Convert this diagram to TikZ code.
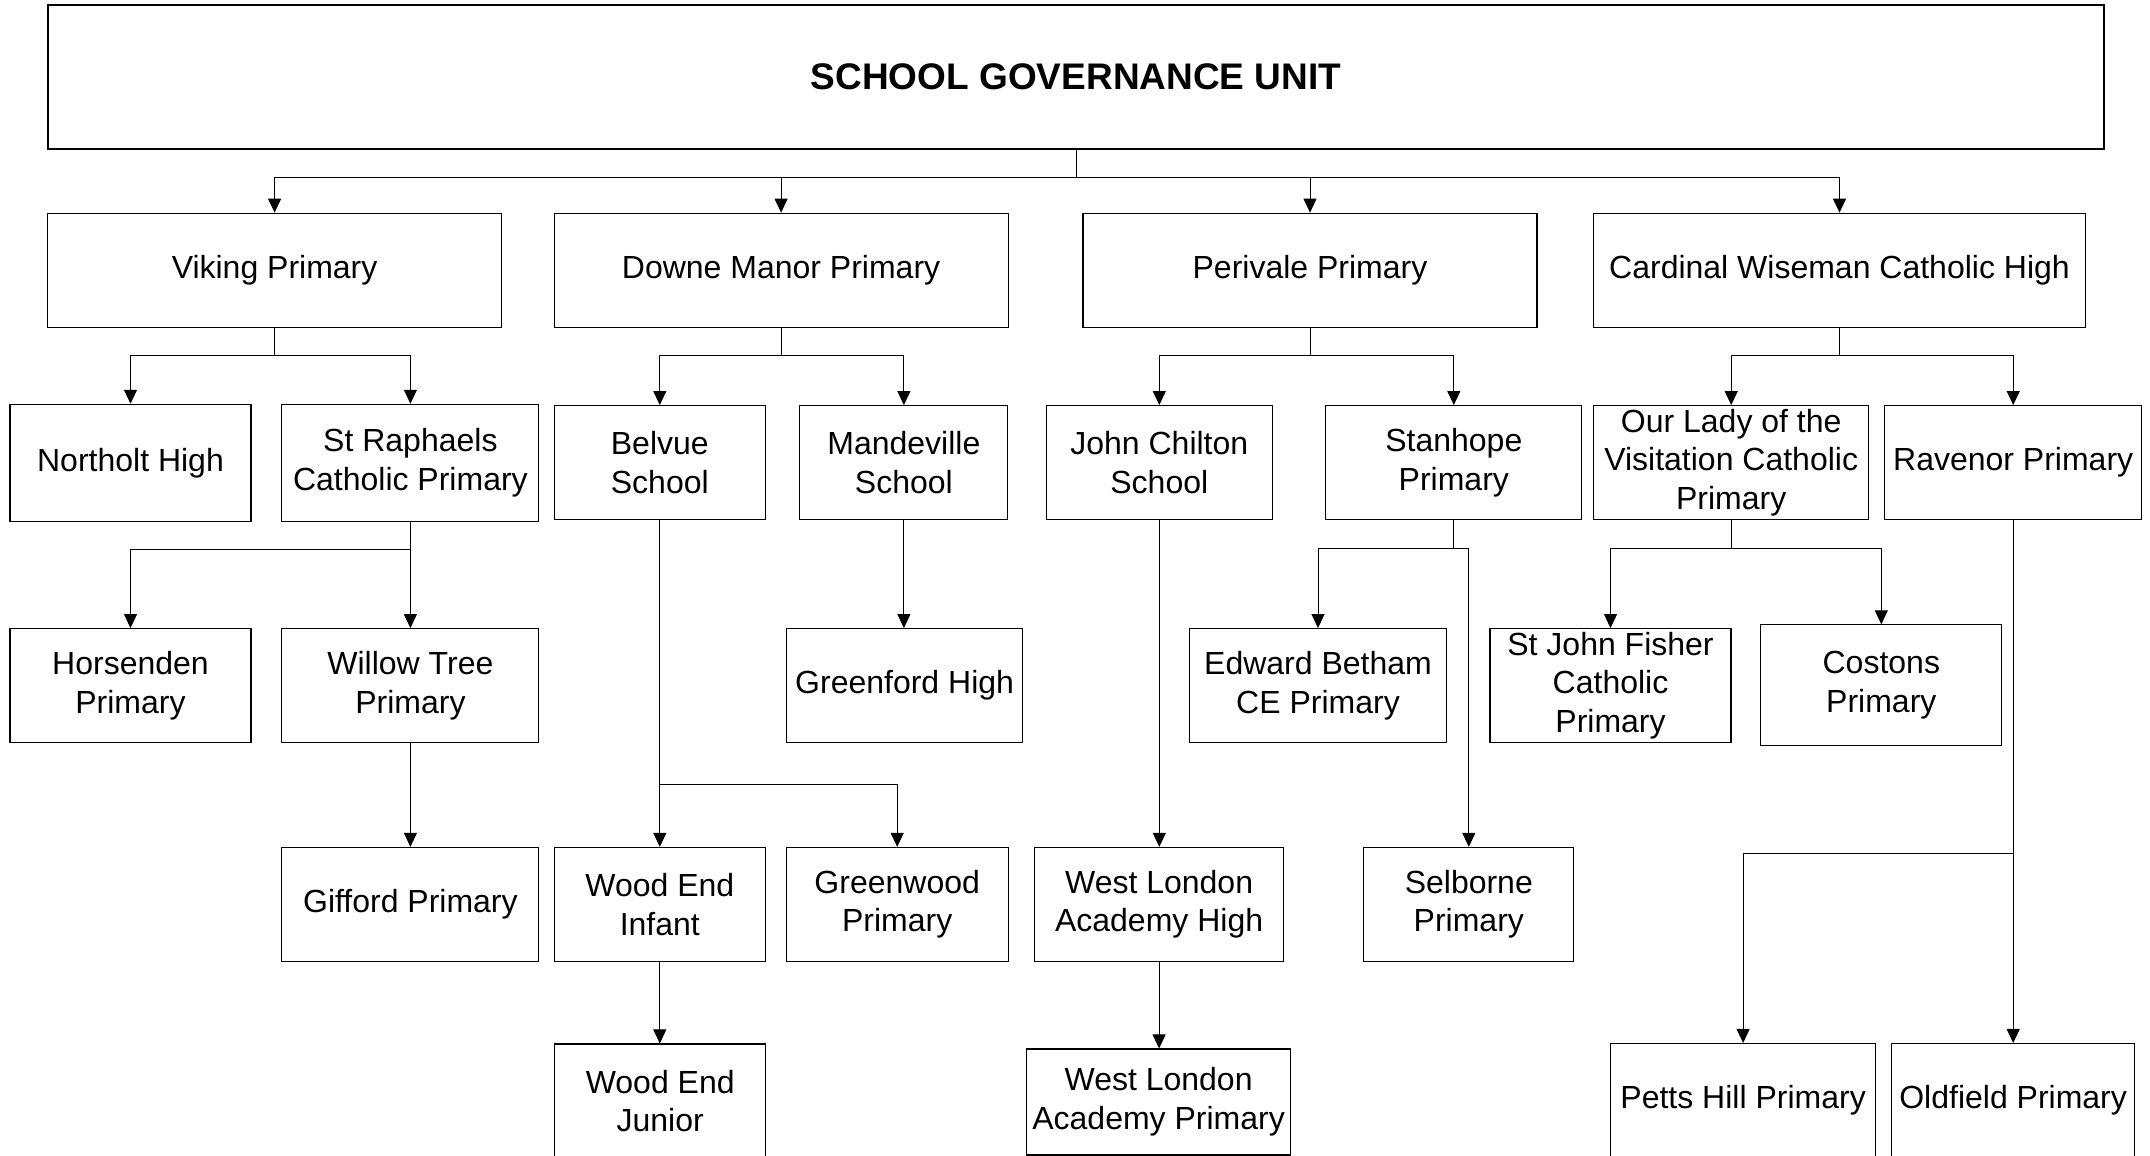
\documentclass[tikz,border=0pt]{standalone}
\usepackage{fontspec}
\setmainfont{Liberation Sans}
\usetikzlibrary{arrows.meta}

\begin{document}
\begin{tikzpicture}[x=1pt, y=-1pt, >={Triangle[length=14pt,width=13pt]},
    unit/.style={draw, line width=1.1pt, rectangle, align=center, inner sep=0pt,
                 font=\fontsize{32}{38.6}\selectfont, minimum height=114pt},
    link/.style={->, line width=1pt}]

    \clip (0,0) rectangle (2150,1156);

    % Head box
    \node[unit, minimum width=2056pt, minimum height=144pt,
          font=\fontsize{37}{44}\selectfont\bfseries] (gov) at (1076,77) {SCHOOL GOVERNANCE UNIT};

    % Level 1
    \node[unit, minimum width=454pt] (viking)   at (274.6,270.2) {Viking Primary};
    \node[unit, minimum width=454pt] (downe)    at (781.1,270.2) {Downe Manor Primary};
    \node[unit, minimum width=454pt] (perivale) at (1310,270.2) {Perivale Primary};
    \node[unit, minimum width=492pt] (cardinal) at (1839.5,270.2) {Cardinal Wiseman Catholic High};

    % Level 2
    \node[unit, minimum width=241pt, minimum height=117pt] (northolt)   at (130.5,462.8) {Northolt High};
    \node[unit, minimum width=257pt, minimum height=117pt] (straphaels) at (410.4,462.8) {St Raphaels\\Catholic Primary};
    \node[unit, minimum width=211pt] (belvue)     at (659.8,462.6) {Belvue\\School};
    \node[unit, minimum width=208pt] (mandeville) at (903.9,462.6) {Mandeville\\School};
    \node[unit, minimum width=226pt] (chilton)    at (1159.3,462.6) {John Chilton\\School};
    \node[unit, minimum width=256pt] (stanhope)   at (1453.8,462.6) {Stanhope\\Primary};
    \node[unit, minimum width=275pt] (ourlady)    at (1731.2,462.6) {Our Lady of the\\Visitation Catholic\\Primary};
    \node[unit, minimum width=257pt] (ravenor)    at (2013.2,462.6) {Ravenor Primary};

    % Level 3
    \node[unit, minimum width=241pt] (horsenden) at (130.5,685.6) {Horsenden\\Primary};
    \node[unit, minimum width=257pt] (willow)    at (410.4,685.6) {Willow Tree\\Primary};
    \node[unit, minimum width=236pt] (greenford) at (904.6,685.6) {Greenford High};
    \node[unit, minimum width=257pt] (betham)    at (1318,685.6) {Edward Betham\\CE Primary};
    \node[unit, minimum width=241pt] (fisher)    at (1610.5,685.6) {St John Fisher\\Catholic\\Primary};
    \node[unit, minimum width=241pt, minimum height=121pt] (costons) at (1881.3,685.4) {Costons\\Primary};

    % Level 4
    \node[unit, minimum width=257pt] (gifford)   at (410.4,904.4) {Gifford Primary};
    \node[unit, minimum width=211pt] (woodinf)   at (659.8,904.4) {Wood End\\Infant};
    \node[unit, minimum width=222pt] (greenwood) at (897.2,904.4) {Greenwood\\Primary};
    \node[unit, minimum width=249pt] (wlhigh)    at (1159.1,904.4) {West London\\Academy High};
    \node[unit, minimum width=210pt] (selborne)  at (1468.8,904.4) {Selborne\\Primary};

    % Level 5
    \node[unit, minimum width=211pt] (woodjun)   at (660.2,1101) {Wood End\\Junior};
    \node[unit, minimum width=264pt, minimum height=106pt] (wlprimary) at (1158.6,1102) {West London\\Academy Primary};
    \node[unit, minimum width=265pt] (petts)     at (1743.1,1100.5) {Petts Hill Primary};
    \node[unit, minimum width=243pt] (oldfield)  at (2013.1,1100.5) {Oldfield Primary};

    % Head to level 1
    \foreach \c in {viking, downe, perivale, cardinal} {
        \draw[link] (gov.south) -- ++(0,28) -| (\c.north);
    }

    % Level 1 to level 2
    \foreach \p/\c in {viking/northolt, viking/straphaels, downe/belvue, downe/mandeville,
                       perivale/chilton, perivale/stanhope, cardinal/ourlady, cardinal/ravenor} {
        \draw[link] (\p.south) -- ++(0,28) -| (\c.north);
    }

    % Level 2 to level 3
    \foreach \p/\c in {straphaels/horsenden, straphaels/willow, stanhope/betham,
                       ourlady/fisher, ourlady/costons} {
        \draw[link] (\p.south) -- ++(0,28) -| (\c.north);
    }
    \draw[link] (mandeville.south) -- (mandeville.south |- greenford.north);
    \draw[link] (stanhope.south) -- ++(0,28) -| (selborne.north);

    % Long drops
    \draw[link] (willow.south) -- (willow.south |- gifford.north);
    \draw[link] (belvue.south) -- (belvue.south |- woodinf.north);
    \draw[link] (belvue.south) -- ++(0,264) -| (greenwood.north);
    \draw[link] (chilton.south) -- (chilton.south |- wlhigh.north);
    \draw[link] (ravenor.south) -- (ravenor.south |- oldfield.north);
    \draw[link] (ravenor.south) -- ++(0,333) -| (petts.north);

    % Level 4 to level 5
    \draw[link] (woodinf.south) -- (woodinf.south |- woodjun.north);
    \draw[link] (wlhigh.south) -- (wlhigh.south |- wlprimary.north);

\end{tikzpicture}
\end{document}
